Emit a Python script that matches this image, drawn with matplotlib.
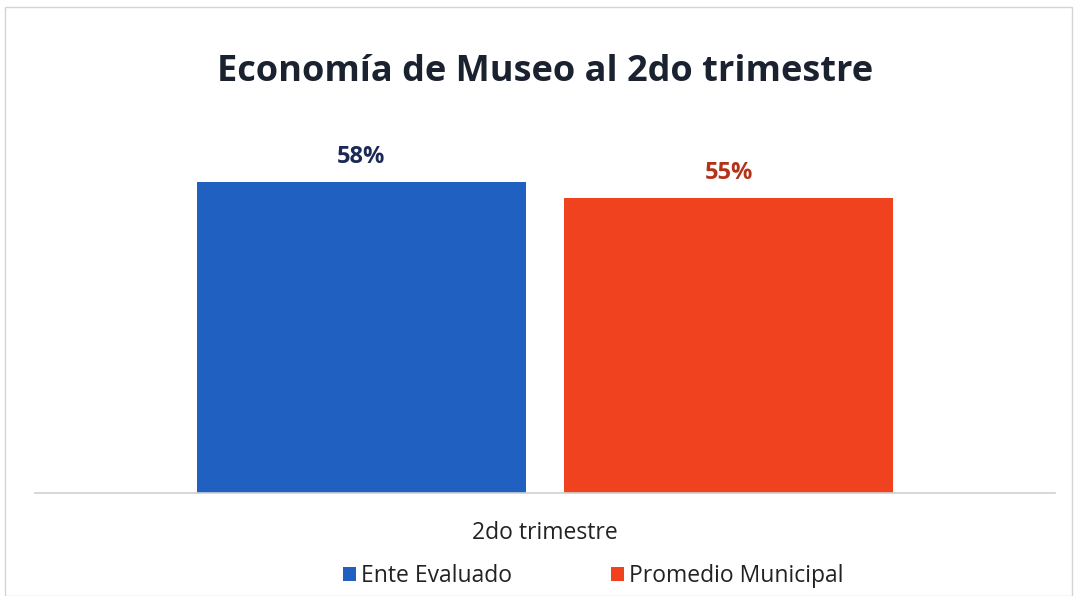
import matplotlib
matplotlib.use("Agg")
import matplotlib.pyplot as plt
from matplotlib.patches import Rectangle

categories = ["2do trimestre"]
series_names = ["Ente Evaluado", "Promedio Municipal"]
values = [58, 55]
value_labels = ["58%", "55%"]
bar_colors = ["#1F60C0", "#F0421E"]
label_colors = ["#1B2A55", "#B5321A"]

plt.rcParams['font.family'] = ['Open Sans', 'DejaVu Sans']

W, H = 1075, 596
fig = plt.figure(figsize=(W / 100, H / 100), dpi=100)
fig.patch.set_facecolor("white")

# axes: x 35..1055, y (top) 118..493 px
ax_left, ax_right = 35, 1055
ax_top, ax_bottom = 118, 493
ax = fig.add_axes([ax_left / W, 1 - ax_bottom / H, (ax_right - ax_left) / W, (ax_bottom - ax_top) / H])
ax.set_xlim(-0.5, 0.5)
ax.set_ylim(0, 70)

offsets = [-0.18, 0.18]
width = 0.322
for i, (name, v, c, lab, lc) in enumerate(zip(series_names, values, bar_colors, value_labels, label_colors)):
    ax.bar(offsets[i], v, width=width, color=c, label=name, zorder=2)
    ax.text(offsets[i], v + 2.5, lab, ha="center", va="bottom", fontsize=17,
            fontweight="bold", color=lc)

for s in ["top", "right", "left"]:
    ax.spines[s].set_visible(False)
ax.spines["bottom"].set_color("#CFCFCF")
ax.spines["bottom"].set_linewidth(1.2)
ax.set_yticks([])
ax.set_xticks([0])
ax.set_xticklabels(categories, fontsize=16.5, color="#222222")
ax.tick_params(axis="x", length=0, pad=20)

fig.text(545 / W, 1 - 72 / H, "Economía de Museo al 2do trimestre", ha="center", va="center",
         fontsize=26, fontweight="bold", color="#1A2230")

leg = fig.legend(loc="center", bbox_to_anchor=(593 / W, 1 - 576 / H), ncol=2, frameon=False,
                 fontsize=16.5, handlelength=0.6, handleheight=0.6, handletextpad=0.2,
                 columnspacing=4.3)
for t in leg.get_texts():
    t.set_color("#222222")

fig.patches.append(Rectangle((5 / W, 0.0), (1072 - 5) / W, 1 - 7 / H, transform=fig.transFigure,
                             fill=False, edgecolor="#D5D5D5", linewidth=1.0))

fig.savefig("out.png", dpi=100, facecolor="white")
